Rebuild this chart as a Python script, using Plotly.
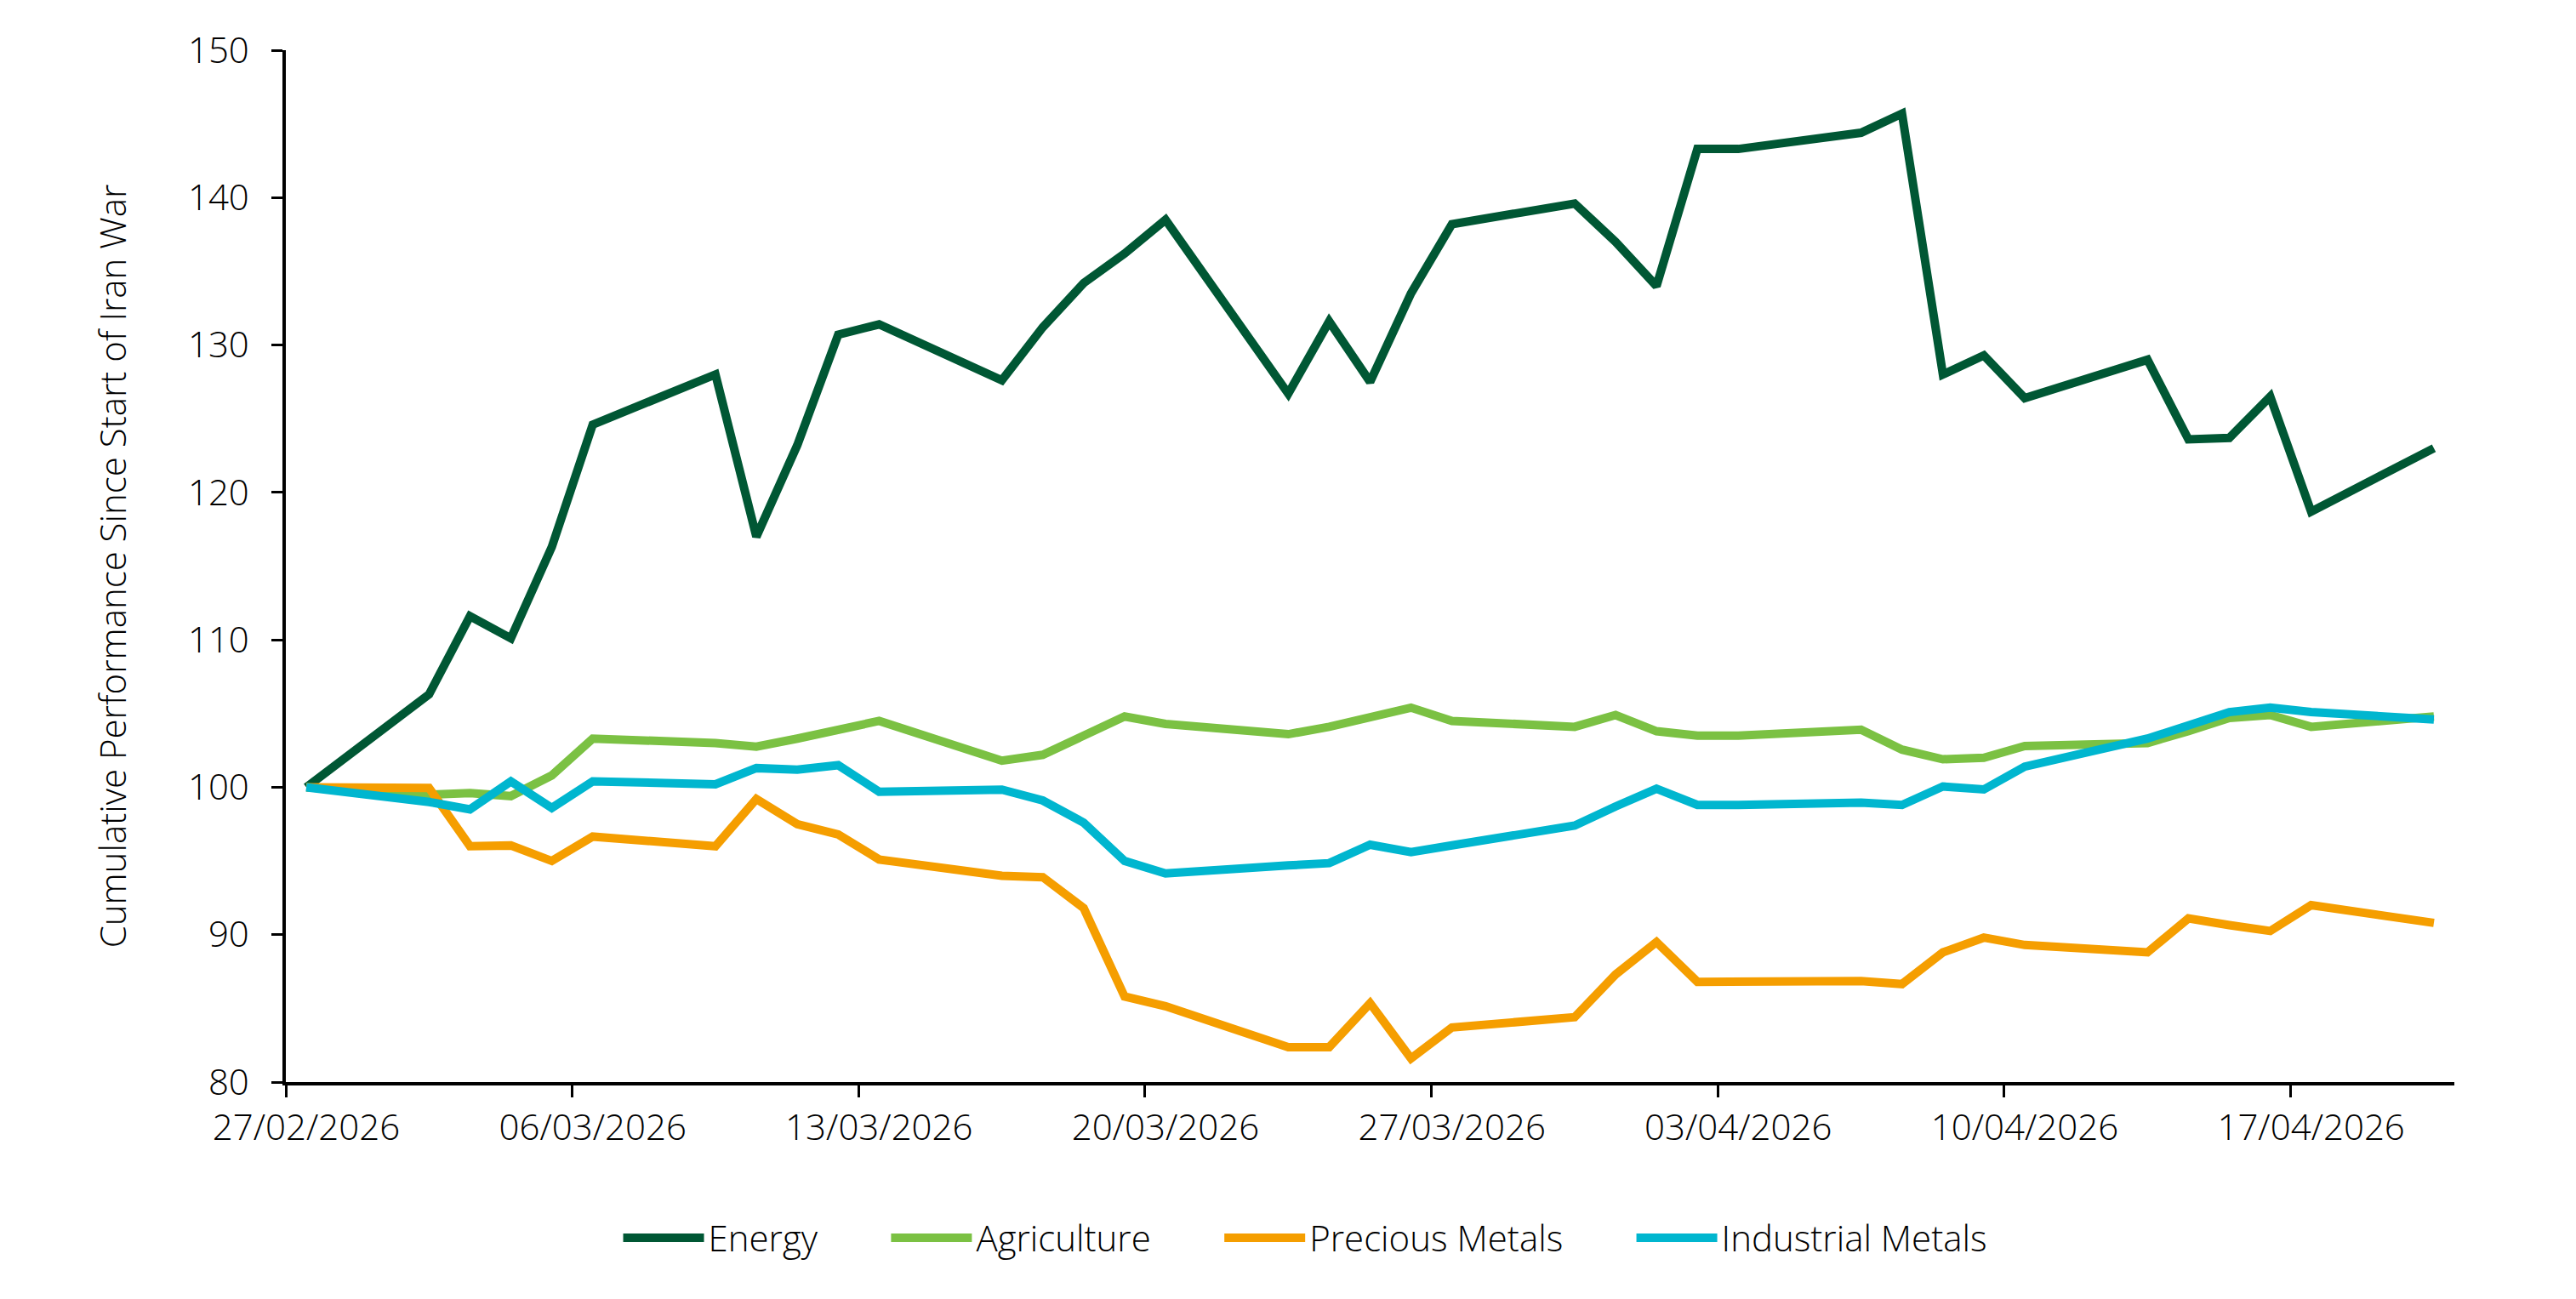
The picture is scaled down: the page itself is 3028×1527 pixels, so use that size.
import pandas as pd
import plotly.graph_objects as go

dates = [
    "2026-02-27",
    "2026-03-02", "2026-03-03", "2026-03-04", "2026-03-05", "2026-03-06",
    "2026-03-09", "2026-03-10", "2026-03-11", "2026-03-12", "2026-03-13",
    "2026-03-16", "2026-03-17", "2026-03-18", "2026-03-19", "2026-03-20",
    "2026-03-23", "2026-03-24", "2026-03-25", "2026-03-26", "2026-03-27",
    "2026-03-30", "2026-03-31", "2026-04-01", "2026-04-02", "2026-04-03",
    "2026-04-06", "2026-04-07", "2026-04-08", "2026-04-09", "2026-04-10",
    "2026-04-13", "2026-04-14", "2026-04-15", "2026-04-16", "2026-04-17",
    "2026-04-20",
]

energy = [
    100.0,
    106.3, 111.6, 110.1, 116.3, 124.6,
    128.0, 117.0, 123.2, 130.7, 131.4,
    127.6, 131.2, 134.2, 136.2, 138.5,
    126.7, 131.6, 127.5, 133.5, 138.2,
    139.6, 137.0, 134.0, 143.3, 143.3,
    144.4, 145.7, 128.0, 129.3, 126.4,
    129.0, 123.6, 123.7, 126.5, 118.7,
    123.0,
]

agriculture = [
    100.0,
    99.5, 99.6, 99.4, 100.8, 103.3,
    103.0, 102.75, 103.3, 103.9, 104.5,
    101.8, 102.2, 103.5, 104.8, 104.3,
    103.6, 104.1, 104.75, 105.4, 104.5,
    104.1, 104.9, 103.8, 103.5, 103.5,
    103.9, 102.55, 101.9, 102.0, 102.8,
    103.0, 103.8, 104.7, 104.9, 104.1,
    104.8,
]

precious_metals = [
    100.0,
    99.95, 96.0, 96.05, 95.0, 96.65,
    96.0, 99.2, 97.5, 96.8, 95.1,
    94.0, 93.9, 91.8, 85.8, 85.15,
    82.37, 82.37, 85.35, 81.6, 83.7,
    84.4, 87.3, 89.5, 86.8, 86.8,
    86.85, 86.65, 88.8, 89.8, 89.3,
    88.8, 91.1, 90.65, 90.25, 92.0,
    90.8,
]

industrial_metals = [
    100.0,
    99.0, 98.5, 100.4, 98.6, 100.4,
    100.2, 101.3, 101.2, 101.5, 99.7,
    99.84, 99.1, 97.6, 95.0, 94.15,
    94.7, 94.85, 96.1, 95.6, 96.06,
    97.4, 98.7, 99.9, 98.8, 98.8,
    98.95, 98.8, 100.05, 99.85, 101.4,
    103.3, 104.2, 105.1, 105.4, 105.1,
    104.6,
]

series_names = ["Energy", "Agriculture", "Precious Metals", "Industrial Metals"]
series_values = [energy, agriculture, precious_metals, industrial_metals]
series_colors = ["#005734", "#7bc143", "#f59e00", "#00b6cf"]

y_ticks = [80, 90, 100, 110, 120, 130, 140, 150]
x_range = ["2026-02-27", "2026-04-21"]
y_title = "Cumulative Performance Since Start of Iran War"

# points sit in the middle of each day on the date axis
x = pd.to_datetime(dates) + pd.Timedelta(hours=12)

FONT = "Open Sans"
TXT = "#000000"
FS = 42
fnt = dict(family=FONT, size=FS, color=TXT, weight=300)

fig = go.Figure()
n = len(series_names)
for i, (name, vals, col) in enumerate(zip(series_names, series_values, series_colors)):
    label = name + ("\u00a0" * 7 if i < n - 1 else "")
    fig.add_trace(go.Scatter(
        x=x, y=vals, mode="lines", name=label,
        line=dict(color=col, width=10),
    ))

fig.update_layout(
    width=3028, height=1527,
    paper_bgcolor="white", plot_bgcolor="white",
    margin=dict(l=328, r=151, t=51, b=263, autoexpand=False),
    font=fnt,
    showlegend=True,
    legend=dict(
        orientation="h", x=0.47, xanchor="center",
        y=-0.151, yanchor="middle",
        font=fnt, itemwidth=95, traceorder="normal",
    ),
)

fig.update_xaxes(
    type="date", range=x_range,
    tick0="2026-02-27", dtick=7 * 86400000, tickformat="%d/%m/%Y",
    tickangle=0,
    showline=True, linecolor="black", linewidth=3.5,
    ticks="outside", ticklen=14, tickwidth=3, tickcolor="black",
    showgrid=False, zeroline=False,
    tickfont=fnt, ticklabelshift=24,
)
fig.update_yaxes(
    range=[80, 150], tickvals=y_ticks,
    showline=True, linecolor="black", linewidth=3.5,
    ticks="outside", ticklen=13, tickwidth=3, tickcolor="black",
    showgrid=False, zeroline=False,
    tickfont=fnt, ticklabelstandoff=18,
    title=dict(text=y_title, font=fnt, standoff=60),
)

fig.write_html("out.html")
